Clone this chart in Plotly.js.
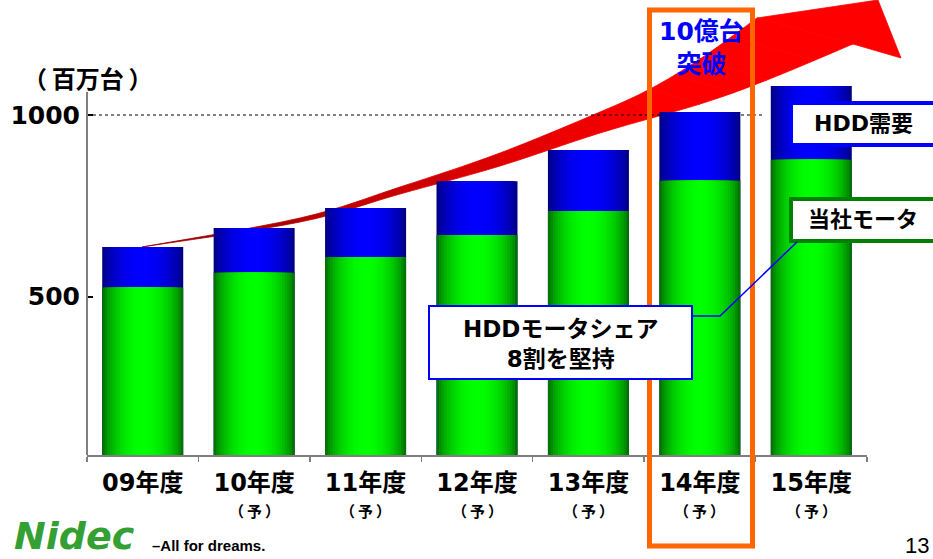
<!DOCTYPE html>
<html><head><meta charset="utf-8">
<script src="https://cdn.plot.ly/plotly-3.0.1.min.js"></script>
<style>html,body{margin:0;padding:0;background:#fff;}#chart{width:933px;height:559px;}</style>
</head><body><div id="chart"></div>
<script>
// ---- data ----
const categories = ['09年度','10年度','11年度','12年度','13年度','14年度','15年度'];
const forecastMark = ['', '（\u2009予\u2009）','（\u2009予\u2009）','（\u2009予\u2009）','（\u2009予\u2009）','（\u2009予\u2009）','（\u2009予\u2009）'];
const hddDemand = [637, 689, 744, 818, 904, 1008, 1080];   // HDD需要 (百万台)
const nidecMotor = [525, 566, 609, 670, 736, 819, 877];    // 当社モータ (百万台)
const yTickVals = [500, 1000];
const yTickText = ['500', '1000'];

// ---- layout geometry ----
const W = 933, H = 559, L = 87, R = 66, T = 80, B = 104;
const PW = W - L - R, PH = H - T - B;
const px = x => (x - L) / PW;
const py = y => (T + PH - y) / PH;
const FONT = 'DejaVu Sans, Noto Sans CJK JP, sans-serif';
const JFONT = 'Noto Sans CJK JP, sans-serif';

// ---- gradient bars via nested overlay layers ----
const N = 16, BW = 0.727;
function mix(a, b, t) { return 'rgb(' + a.map((v, i) => Math.round(v + (b[i] - v) * t)).join(',') + ')'; }
function layers(vals, edge, center) {
  const out = [];
  for (let k = 0; k < N; k++) {
    const dOuter = 1 - k / N;
    const dMid = 1 - (k + 0.5) / N;
    const t = Math.pow(Math.cos(dMid * Math.PI / 2), 0.6);
    out.push({
      type: 'bar', x: categories, y: vals, width: BW * dOuter,
      marker: { color: mix(edge, center, t), line: { width: 0 } },
      hoverinfo: 'skip', showlegend: false
    });
  }
  return out;
}
const traces = [].concat(
  layers(hddDemand, [0, 0, 110], [0, 0, 255]),
  layers(nidecMotor, [0, 90, 0], [0, 255, 0])
);

// ---- red arrow (decoration, pixel outline smoothed) ----
const upPts = [[142, 247], [300, 218], [400, 187], [500, 153], [600, 112], [650, 89], [700, 59], [757, 18]];
const loPts = [[142, 247], [300, 222], [400, 194], [500, 166], [600, 133], [700, 104], [767, 80], [853, 44]];
function smooth(pts, steps) {
  const out = [];
  for (let i = 0; i < pts.length - 1; i++) {
    const p0 = pts[Math.max(0, i - 1)], p1 = pts[i], p2 = pts[i + 1], p3 = pts[Math.min(pts.length - 1, i + 2)];
    for (let s = 0; s < steps; s++) {
      const t = s / steps, t2 = t * t, t3 = t2 * t;
      const f = (a, b, c, d) => 0.5 * ((2 * b) + (-a + c) * t + (2 * a - 5 * b + 4 * c - d) * t2 + (-a + 3 * b - 3 * c + d) * t3);
      out.push([f(p0[0], p1[0], p2[0], p3[0]), f(p0[1], p1[1], p2[1], p3[1])]);
    }
  }
  out.push(pts[pts.length - 1]);
  return out;
}
const up = smooth(upPts, 8), lo = smooth(loPts, 8);
function P(p) { return px(p[0]).toFixed(5) + ',' + py(p[1]).toFixed(5); }
function redAt(x) {
  const t = Math.max(0, Math.min(1, (x - 142) / (660 - 142)));
  return 'rgb(' + Math.round(150 + (255 - 150) * t) + ',0,0)';
}
const shapes = [];
const NS = 14;
for (let i = 0; i < NS; i++) {
  const a = Math.round(i * (up.length - 1) / NS), b = Math.round((i + 1) * (up.length - 1) / NS);
  const a2 = Math.round(i * (lo.length - 1) / NS), b2 = Math.round((i + 1) * (lo.length - 1) / NS);
  let d = 'M' + P(up[a]);
  for (let k = a + 1; k <= b; k++) d += ' L' + P(up[k]);
  for (let k = b2; k >= a2; k--) d += ' L' + P(lo[k]);
  d += ' Z';
  const c = redAt((up[a][0] + lo[b2][0]) / 2);
  shapes.push({ type: 'path', xref: 'paper', yref: 'paper', layer: 'below', path: d,
    fillcolor: c, line: { color: c, width: 0.8 } });
}
shapes.push({
  type: 'path', xref: 'paper', yref: 'paper', layer: 'below',
  path: 'M' + P([757, 18]) + ' L' + P([878, 0]) + ' L' + P([901, 58]) + ' L' + P([853, 44]) + ' Z',
  fillcolor: '#ff0000', line: { color: '#ff0000', width: 0.8 }
});

// dotted 1000 line
shapes.push({ type: 'line', xref: 'paper', yref: 'y', x0: 0, x1: px(762), y0: 1000, y1: 1000, layer: 'below',
  line: { color: '#000', width: 1, dash: '3px,3px' } });
// y axis line
shapes.push({ type: 'line', xref: 'paper', yref: 'paper', x0: 0, x1: 0, y0: 0, y1: py(92), layer: 'above',
  line: { color: '#7f7f7f', width: 2 } });
// orange frame
shapes.push({ type: 'rect', xref: 'paper', yref: 'paper', x0: px(649.5), x1: px(752.5), y0: py(546), y1: py(10),
  layer: 'above', line: { color: '#ff6600', width: 5 } });
// label boxes
shapes.push({ type: 'rect', xref: 'paper', yref: 'paper', x0: px(791), x1: px(936), y0: py(145), y1: py(103),
  layer: 'above', fillcolor: '#fff', line: { color: '#0000ff', width: 4 } });
shapes.push({ type: 'rect', xref: 'paper', yref: 'paper', x0: px(791), x1: px(936), y0: py(241), y1: py(199),
  layer: 'above', fillcolor: '#fff', line: { color: '#008000', width: 4 } });
shapes.push({ type: 'path', xref: 'paper', yref: 'paper', layer: 'above',
  path: 'M' + P([797, 242]) + ' L' + P([720, 316]) + ' L' + P([692, 316]),
  line: { color: '#0000ff', width: 1.5 } });
shapes.push({ type: 'rect', xref: 'paper', yref: 'paper', x0: px(429), x1: px(692), y0: py(379), y1: py(306),
  layer: 'above', fillcolor: '#fff', line: { color: '#0000ff', width: 2 } });

// ---- annotations ----
const ann = [];
categories.forEach((c, i) => {
  if (forecastMark[i]) ann.push({ x: c, xref: 'x', y: py(510), yref: 'paper', text: forecastMark[i],
    showarrow: false, xanchor: 'center', yanchor: 'middle', font: { family: JFONT, size: 15, color: '#000', weight: 'bold' } });
});
function txt(x, y, text, size, color, extra) {
  ann.push(Object.assign({ x: px(x), y: py(y), xref: 'paper', yref: 'paper', text: text, showarrow: false,
    xanchor: 'center', yanchor: 'middle', font: { family: FONT, size: size, color: color, weight: 'bold' } }, extra || {}));
}
txt(88, 78, '（\u2009百万台\u2009）', 24, '#000', { font: { family: JFONT, size: 24, color: '#000', weight: 'bold' } });
txt(701, 48, '10億台<br>突破', 25, '#0000ff');
txt(863, 124, 'HDD需要', 22, '#000');
txt(863, 220, '当社モータ', 22, '#000');
txt(560, 344, 'HDDモータシェア<br>8割を堅持', 23, '#000');
ann.push({ x: px(12), y: py(536), xref: 'paper', yref: 'paper', text: '<i>Nidec</i>', showarrow: false,
  xanchor: 'left', yanchor: 'middle', font: { family: 'DejaVu Sans, sans-serif', size: 38, color: '#34a034', weight: 'bold' } });
ann.push({ x: px(150), y: py(545), xref: 'paper', yref: 'paper', text: '–All for dreams.', showarrow: false,
  xanchor: 'left', yanchor: 'middle', font: { family: 'Liberation Sans Narrow, Liberation Sans, sans-serif', size: 15, color: '#000', weight: 'bold' } });
ann.push({ x: px(931), y: py(545), xref: 'paper', yref: 'paper', text: '13', showarrow: false,
  xanchor: 'right', yanchor: 'middle', font: { family: 'Liberation Sans, Arial, sans-serif', size: 22, color: '#000' } });

const layout = {
  width: W, height: H, margin: { l: L, r: R, t: T, b: B, pad: 0 },
  paper_bgcolor: '#fff', plot_bgcolor: 'rgba(0,0,0,0)',
  barmode: 'overlay', showlegend: false,
  xaxis: {
    type: 'category', showgrid: false, zeroline: false,
    showline: true, linecolor: '#7f7f7f', linewidth: 2,
    ticks: 'outside', tickson: 'boundaries', ticklen: 5, tickcolor: '#7f7f7f', tickwidth: 1.5,
    ticklabelstandoff: 5,
    tickfont: { family: FONT, size: 24, color: '#000', weight: 'bold' }
  },
  yaxis: {
    range: [64.4, 1096.3], showgrid: false, zeroline: false, showline: false,
    tickvals: yTickVals, ticktext: yTickText,
    ticks: 'inside', ticklen: 6, tickwidth: 2, tickcolor: '#000',
    ticklabelstandoff: 6,
    tickfont: { family: FONT, size: 25, color: '#000', weight: 'bold' }
  },
  shapes: shapes, annotations: ann
};
Plotly.newPlot('chart', traces, layout, { staticPlot: true, displayModeBar: false });
</script>
</body></html>
